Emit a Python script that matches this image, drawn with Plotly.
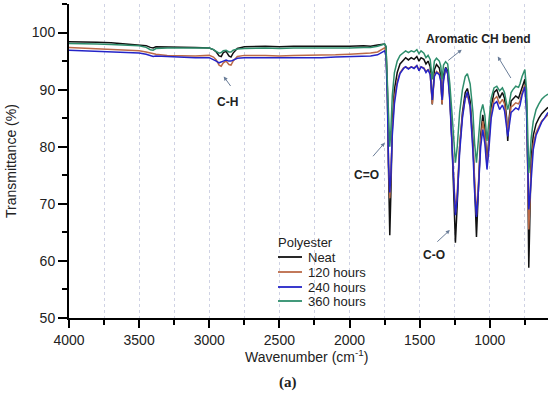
import plotly.graph_objects as go

wavenumber = [4000, 3900, 3800, 3700, 3600, 3500, 3450, 3420, 3400, 3380, 3300, 3200, 3100, 3000,
              2970, 2950, 2930, 2915, 2900, 2880, 2860, 2845, 2830, 2800, 2750, 2600, 2500, 2400,
              2300, 2200, 2100, 2000, 1900, 1850, 1800, 1770, 1750, 1740, 1730, 1722, 1713, 1705,
              1695, 1680, 1660, 1640, 1615, 1600, 1580, 1560, 1540, 1520, 1505, 1490, 1470, 1455,
              1440, 1425, 1410, 1395, 1380, 1360, 1350, 1340, 1330, 1315, 1300, 1285, 1270, 1258,
              1245, 1232, 1215, 1195, 1175, 1160, 1140, 1120, 1108, 1095, 1082, 1065, 1050, 1035,
              1020, 1005, 990, 970, 950, 930, 910, 895, 880, 872, 862, 848, 835, 815, 795, 785,
              770, 750, 738, 730, 722, 714, 705, 690, 670, 650, 630, 610, 590, 585]

neat = [98.4, 98.4, 98.3, 98.2, 98.0, 97.9, 97.7, 97.4, 97.3, 97.5, 97.5, 97.4, 97.4, 97.3,
        97.0, 96.6, 95.9, 95.8, 96.5, 96.7, 95.9, 95.7, 96.4, 97.2, 97.5, 97.6, 97.5, 97.6,
        97.6, 97.5, 97.6, 97.6, 97.7, 97.6, 97.8, 98.0, 98.0, 97.5, 90.0, 76.0, 64.5, 72.0,
        84.0, 90.0, 93.0, 94.5, 95.3, 95.6, 95.2, 95.6, 95.3, 95.8, 95.0, 95.6, 95.3, 94.5,
        95.0, 94.0, 87.4, 93.5, 94.4, 93.8, 92.5, 87.4, 92.5, 93.9, 93.3, 89.0, 81.0, 72.0,
        63.2, 70.0, 80.0, 86.0, 89.5, 90.2, 88.0, 81.0, 72.0, 64.2, 72.0, 82.0, 85.6, 83.0,
        77.0, 82.0, 87.0, 89.5, 90.0, 88.5, 89.5, 88.5, 85.0, 81.0, 85.0, 88.0, 88.3, 88.9, 88.5, 89.2,
        90.5, 91.8, 88.0, 78.0, 58.8, 70.0, 78.0, 82.0, 84.0, 85.0, 85.8, 86.3, 86.8, 86.9]

h120 = [97.4, 97.3, 97.2, 97.1, 97.0, 96.8, 96.6, 96.4, 96.2, 96.2, 96.0, 95.9, 95.9, 96.0,
        95.7, 95.2, 94.3, 94.1, 94.7, 95.0, 94.4, 94.3, 95.0, 95.8, 96.0, 96.0, 95.9, 96.0,
        96.0, 96.0, 96.1, 96.2, 96.3, 96.4, 96.6, 97.0, 97.3, 96.6, 89.0, 77.0, 71.0, 75.0,
        83.0, 88.5, 91.5, 93.0, 93.8, 94.0, 93.7, 94.0, 93.8, 94.2, 93.5, 94.0, 93.8, 93.2,
        93.5, 92.8, 87.5, 92.5, 93.2, 92.8, 91.8, 87.5, 91.8, 93.5, 92.8, 88.5, 81.0, 74.0,
        68.5, 72.0, 80.0, 85.5, 88.5, 89.0, 87.0, 80.0, 73.0, 68.0, 73.0, 81.0, 84.5, 82.0,
        76.5, 81.0, 86.0, 88.3, 88.8, 87.5, 88.3, 87.5, 84.5, 82.5, 84.5, 87.0, 87.2, 87.7, 87.5, 88.0,
        89.5, 90.8, 87.0, 78.0, 65.5, 70.0, 76.0, 80.5, 82.5, 83.5, 84.5, 85.0, 85.5, 85.6]

h240 = [96.9, 96.8, 96.7, 96.6, 96.5, 96.4, 96.2, 95.9, 95.8, 95.9, 95.8, 95.7, 95.6, 95.6,
        95.3, 95.0, 94.7, 94.8, 95.0, 95.2, 95.0, 95.0, 95.2, 95.5, 95.6, 95.6, 95.5, 95.6,
        95.6, 95.6, 95.7, 95.8, 95.9, 95.9, 96.1, 96.5, 96.8, 96.0, 88.0, 77.0, 72.0, 75.0,
        82.0, 87.5, 91.0, 92.8, 93.7, 94.0, 93.6, 94.0, 93.7, 94.2, 93.3, 94.0, 93.7, 93.0,
        93.5, 92.6, 88.2, 92.3, 93.0, 92.6, 91.5, 88.2, 91.5, 93.8, 92.8, 88.0, 80.0, 73.0,
        68.0, 71.0, 79.0, 85.0, 88.5, 89.6, 87.0, 79.0, 72.0, 67.7, 72.0, 80.0, 83.0, 80.5,
        76.0, 80.0, 85.0, 87.5, 87.9, 86.5, 87.3, 86.3, 83.5, 81.8, 83.5, 86.0, 86.3, 86.8, 86.5, 87.2,
        89.0, 90.5, 86.0, 77.0, 69.0, 71.0, 75.0, 79.5, 82.0, 83.3, 84.3, 85.0, 85.8, 86.0]

h360 = [98.1, 98.1, 98.0, 97.9, 97.8, 97.7, 97.4, 97.0, 96.9, 97.2, 97.3, 97.3, 97.3, 97.3,
        97.0, 96.7, 96.4, 96.5, 96.8, 96.9, 96.6, 96.6, 96.9, 97.1, 97.2, 97.3, 97.2, 97.3,
        97.3, 97.2, 97.3, 97.3, 97.4, 97.4, 97.6, 97.9, 98.0, 97.6, 92.0, 85.0, 80.0, 83.0,
        89.0, 93.0, 95.0, 96.0, 96.6, 96.8, 96.5, 96.8, 96.6, 97.0, 96.3, 96.8, 96.4, 95.6,
        96.0, 95.3, 91.8, 95.0, 95.5, 95.0, 94.2, 91.8, 94.3, 94.9, 94.5, 91.0, 86.0, 81.0,
        77.2, 80.0, 86.0, 90.0, 92.3, 92.8, 91.0, 86.0, 80.5, 77.2, 81.0, 86.0, 87.4, 85.5,
        81.0, 84.5, 88.5, 90.3, 90.6, 89.8, 90.3, 89.5, 87.5, 86.5, 87.5, 89.5, 90.0, 90.6, 90.4, 91.0,
        92.3, 93.5, 90.0, 84.0, 75.4, 78.0, 81.5, 84.5, 86.5, 87.5, 88.3, 88.8, 89.1, 89.2]

series_names = ["Neat", "120 hours", "240 hours", "360 hours"]
series_values = [neat, h120, h240, h360]
series_colors = ["#111111", "#bc6a48", "#2424c8", "#2e8e6c"]

x_ticks = [4000, 3500, 3000, 2500, 2000, 1500, 1000]
y_ticks = [50, 60, 70, 80, 90, 100]

FONT = "Arial, Liberation Sans, sans-serif"

fig = go.Figure()
for name, vals, col in zip(series_names, series_values, series_colors):
    fig.add_trace(go.Scatter(x=wavenumber, y=vals, mode="lines", name=name,
                             line=dict(color=col, width=1.5), showlegend=False))

# Manual legend (compact spacing like reference)
def px2paper_x(px):
    return (px - 69) / 479.0

def px2paper_y(py):
    return (318 - py) / 314.0

fig.add_annotation(x=px2paper_x(276), y=px2paper_y(243), xref="paper", yref="paper",
                   text="Polyester", showarrow=False, xanchor="left", yanchor="middle",
                   font=dict(family=FONT, size=13, color="#222"))
leg_y = [257, 272, 287, 301]
for name, col, py in zip(series_names, series_colors, leg_y):
    fig.add_shape(type="line", xref="paper", yref="paper",
                  x0=px2paper_x(278), x1=px2paper_x(302), y0=px2paper_y(py), y1=px2paper_y(py),
                  line=dict(color=col, width=1.8))
    fig.add_annotation(x=px2paper_x(306), y=px2paper_y(py), xref="paper", yref="paper",
                       text=name, showarrow=False, xanchor="left", yanchor="middle",
                       font=dict(family=FONT, size=13, color="#222"))

arrow_col = "#6a7d98"
lab_font = dict(family=FONT, size=12, color="#222")

# Labels
labels = [("C-H", 2869, 87.9), ("C=O", 1877, 75.1), ("C-O", 1399, 61.0), ("Aromatic CH bend", 1078, 98.9)]
for t, x, y in labels:
    fig.add_annotation(x=x, y=y, text="<b>%s</b>" % t, showarrow=False, font=lab_font)

# Arrows (head position in data coords, tail offset in px)
arrows = [(2897, 92.3, 8, 11), (1749, 80.7, -13, 15), (1285, 65.4, -14, 13),
          (1200, 97.0, -15, 12), (943, 95.8, 14, 23)]
for x, y, ax, ay in arrows:
    fig.add_annotation(x=x, y=y, ax=ax, ay=ay, text="", showarrow=True, arrowhead=2,
                       arrowsize=0.8, arrowwidth=1, arrowcolor=arrow_col)

# Axis titles
fig.add_annotation(x=0.495, y=px2paper_y(356), xref="paper", yref="paper",
                   text="Wavenumber (cm<sup>-1</sup>)", showarrow=False, yanchor="middle",
                   font=dict(family=FONT, size=14, color="#222"))
fig.add_annotation(x=px2paper_x(288), y=px2paper_y(382), xref="paper", yref="paper",
                   text="<b>(a)</b>", showarrow=False, yanchor="middle",
                   font=dict(family="Liberation Serif", size=15, color="#222"))
fig.add_annotation(x=px2paper_x(11), y=0.5, xref="paper", yref="paper",
                   text="Transmittance (%)", showarrow=False, textangle=-90,
                   xanchor="center", yanchor="middle",
                   font=dict(family=FONT, size=14, color="#222"))

fig.update_layout(
    width=550, height=394,
    margin=dict(l=69, r=2, t=4, b=76),
    paper_bgcolor="white", plot_bgcolor="white",
    font=dict(family=FONT, size=14, color="#222"),
    showlegend=False,
)
grid_col = "#cfd2e4"
fig.update_xaxes(range=[4000, 585], tickvals=x_ticks, ticktext=[str(v) for v in x_ticks],
                 ticks="outside", ticklen=8, tickwidth=1.5, tickcolor="black",
                 showline=True, linecolor="black", linewidth=2, zeroline=False,
                 showgrid=True, gridcolor=grid_col, griddash="dot", gridwidth=1,
                 tickfont=dict(family=FONT, size=14, color="#222"),
                 minor=dict(dtick=250, ticks="outside", ticklen=5, tickcolor="black",
                            showgrid=True, gridcolor=grid_col, griddash="dot", gridwidth=1))
fig.update_yaxes(range=[50, 105], tickvals=y_ticks, ticktext=[str(v) for v in y_ticks],
                 ticks="outside", ticklen=9, tickwidth=1.5, tickcolor="black",
                 showline=True, linecolor="black", linewidth=2, zeroline=False,
                 showgrid=False,
                 tickfont=dict(family=FONT, size=14, color="#222"),
                 minor=dict(dtick=5, ticks="outside", ticklen=5, tickcolor="black", showgrid=False))

fig.write_html("out.html", config={"displayModeBar": False},
               post_script="document.body.style.margin='0';document.body.style.overflow='hidden';")
